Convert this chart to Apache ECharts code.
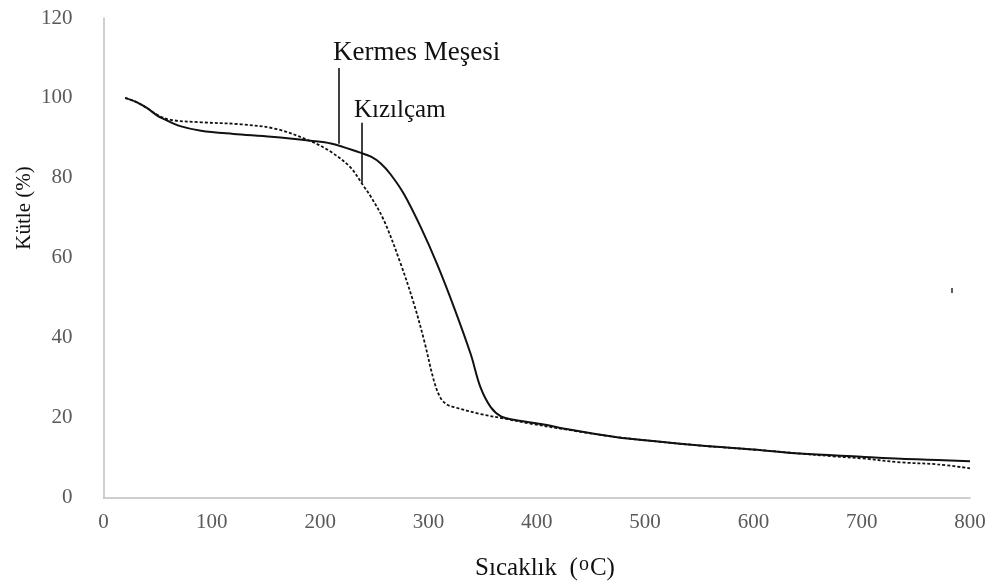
<!DOCTYPE html>
<html>
<head>
<meta charset="utf-8">
<script src="https://cdn.jsdelivr.net/npm/echarts@6/dist/echarts.min.js"></script>
<style>html,body{margin:0;padding:0;background:#fff}#c{width:1000px;height:588px}</style>
</head>
<body>
<div id="c"></div>
<script>
// Kermes Meşesi (solid)
var kermesTemp = [20,30,40,50,56,70,90,120,155,191,210,237,247,256,265,277.5,293,308,323.6,339,348,357.5,367,380,404,430,474,500,551,600,643,700,736,770,800];
var kermesMass = [100,99,97.5,95.5,94.7,93,91.8,91,90.3,89.3,88.6,86.3,85.3,83.6,80.9,75.9,67.6,58.4,47.6,35.9,27.6,22.6,20.3,19.4,18.4,17,15.1,14.3,13,12,11,10.2,9.7,9.4,9.1];
// Kızılçam (dashed)
var kizilTemp = [20,30,40,50,62,90,127,160,191,210,228,240,247,259,274.5,286.7,296,305,311,317,324,348,373,394,430,474,551,600,643,674,700,736,770,800];
var kizilMass = [100,99,97.5,95.7,94.5,93.9,93.4,92.2,89.2,86.5,82.6,78,75.2,69.3,58.4,48.4,39.3,29.3,25,23.3,22.6,20.9,19.6,18.5,16.9,15.1,13,12,11,10.3,9.8,8.8,8.3,7.3];
// stray mark in the picture
var strayPoint = [[783.4, 51.8]];
// leader lines (data coords): [temp, massBottom, massTop]
var kermesLeader = [217.3, 88.5, 107.5];
var kizilLeader = [238, 78.8, 93.8];
var xTicks = {min:0, max:800, interval:100};
var yTicks = {min:0, max:120, interval:20};
var seriesNames = ['Kermes Meşesi', 'Kızılçam'];

function pairs(xs, ys){ return xs.map(function(x,i){ return [x, ys[i]]; }); }

var chart = echarts.init(document.getElementById('c'));
var serif = '"Liberation Serif", "Times New Roman", serif';
chart.setOption({
  animation: false,
  grid: {left: 103.5, right: 30, top: 18, bottom: 90.5, containLabel: false},
  xAxis: {
    type: 'value', min: xTicks.min, max: xTicks.max, interval: xTicks.interval,
    axisLine: {show: true, lineStyle: {color: '#bfbfbf', width: 1.5}},
    axisTick: {show: false}, splitLine: {show: false},
    axisLabel: {color: '#595959', fontFamily: serif, fontSize: 21, margin: 14}
  },
  yAxis: {
    type: 'value', min: yTicks.min, max: yTicks.max, interval: yTicks.interval,
    axisLine: {show: true, lineStyle: {color: '#bfbfbf', width: 1.5}},
    axisTick: {show: false}, splitLine: {show: false},
    axisLabel: {color: '#595959', fontFamily: serif, fontSize: 21, margin: 31}
  },
  series: [
    {
      name: seriesNames[0], type: 'line', data: pairs(kermesTemp, kermesMass),
      symbol: 'none', smooth: 0.35,
      lineStyle: {color: '#111', width: 2},
      markLine: {
        silent: true, symbol: 'none', label: {show: false},
        lineStyle: {color: '#111', width: 1.6, type: 'solid'},
        data: [
          [{coord: [kermesLeader[0], kermesLeader[1]]}, {coord: [kermesLeader[0], kermesLeader[2]]}],
          [{coord: [kizilLeader[0], kizilLeader[1]]}, {coord: [kizilLeader[0], kizilLeader[2]]}]
        ]
      }
    },
    {
      name: seriesNames[1], type: 'line', data: pairs(kizilTemp, kizilMass),
      symbol: 'none', smooth: 0.35,
      lineStyle: {color: '#111', width: 1.8, type: [3, 2]}
    },
    {
      type: 'scatter', data: strayPoint, symbol: 'rect', symbolSize: [2, 5],
      itemStyle: {color: '#333'}, silent: true
    }
  ],
  graphic: [
    {type: 'text', left: 333, top: 39, style: {text: seriesNames[0], font: '27px ' + serif, fill: '#111'}},
    {type: 'text', left: 354, top: 98, style: {text: seriesNames[1], font: '25px ' + serif, fill: '#111'}},
    {type: 'text', x: 24, y: 208, rotation: Math.PI/2,
     style: {text: 'Kütle (%)', font: '21px ' + serif, fill: '#111', align: 'center', verticalAlign: 'middle'}},
    {type: 'text', x: 545, y: 568,
     style: {text: 'Sıcaklık  ({sup|o}C)', font: '25px ' + serif, fill: '#111', align: 'center', verticalAlign: 'middle',
       rich: {sup: {font: '20px ' + serif, fill: '#111', padding: [0, 1, 7, 1]}}}}
  ]
});
</script>
</body>
</html>
